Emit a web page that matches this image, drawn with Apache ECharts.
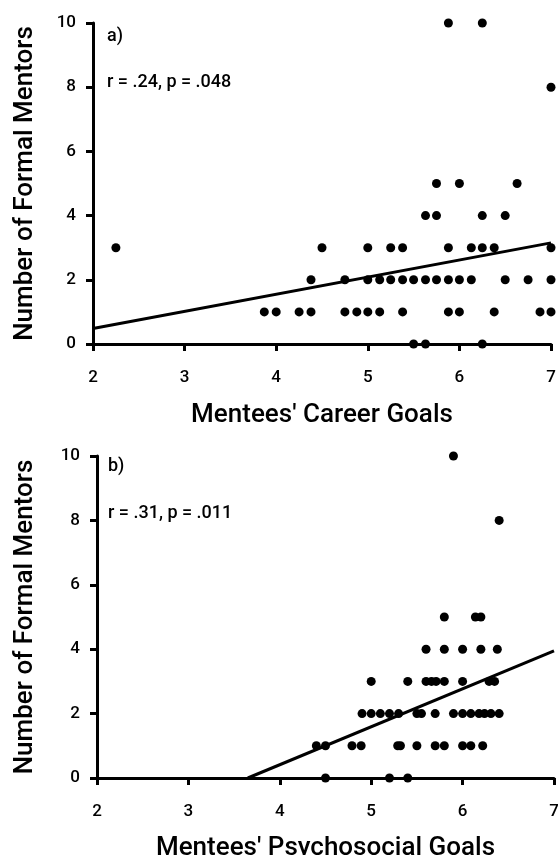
<!DOCTYPE html>
<html>
<head>
<meta charset="utf-8">
<script src="https://cdn.jsdelivr.net/npm/echarts@6/dist/echarts.min.js"></script>
<style>
html,body{margin:0;padding:0;background:#fff;}
#chart{width:558px;height:855px;}
</style>
</head>
<body>
<div id="chart"></div>
<script>
// Panel a) Career goals vs number of formal mentors
const careerGoals = [
  5.5, 5.63, 6.25,
  3.87, 4.0, 4.25, 4.38, 4.75, 4.88, 5.0, 5.13, 5.38, 5.88, 6.0, 6.38, 6.88, 7.0,
  4.38, 4.75, 5.0, 5.13, 5.25, 5.38, 5.5, 5.63, 5.75, 5.88, 6.0, 6.13, 6.5, 6.75, 7.0,
  2.25, 4.5, 5.0, 5.25, 5.38, 5.88, 6.13, 6.25, 6.38, 7.0,
  5.63, 5.75, 6.25, 6.5,
  5.75, 6.0, 6.63,
  7.0,
  5.88, 6.25
];
const careerMentors = [
  0, 0, 0,
  1, 1, 1, 1, 1, 1, 1, 1, 1, 1, 1, 1, 1, 1,
  2, 2, 2, 2, 2, 2, 2, 2, 2, 2, 2, 2, 2, 2, 2,
  3, 3, 3, 3, 3, 3, 3, 3, 3, 3,
  4, 4, 4, 4,
  5, 5, 5,
  8,
  10, 10
];
const careerFit = [[2, 0.48], [7, 3.15]];

// Panel b) Psychosocial goals vs number of formal mentors
const psychGoals = [
  4.5, 5.2, 5.4,
  4.4, 4.5, 4.79, 4.89, 5.29, 5.32, 5.5, 5.7, 5.8, 6.0, 6.09, 6.22,
  4.9, 5.0, 5.1, 5.2, 5.3, 5.5, 5.55, 5.7, 5.9, 6.0, 6.09, 6.18, 6.24, 6.31, 6.4,
  5.0, 5.4, 5.6, 5.66, 5.71, 5.8, 6.0, 6.29, 6.35,
  5.6, 5.8, 6.0, 6.2, 6.38,
  5.8, 6.14, 6.2,
  6.4,
  5.9
];
const psychMentors = [
  0, 0, 0,
  1, 1, 1, 1, 1, 1, 1, 1, 1, 1, 1, 1,
  2, 2, 2, 2, 2, 2, 2, 2, 2, 2, 2, 2, 2, 2, 2,
  3, 3, 3, 3, 3, 3, 3, 3, 3,
  4, 4, 4, 4, 4,
  5, 5, 5,
  8,
  10
];
const psychFit = [[3.65, 0], [7, 3.95]];

const xTicks = [2, 3, 4, 5, 6, 7];
const yTicks = [0, 2, 4, 6, 8, 10];

const FONT = 'Roboto';
const pair = (xs, ys) => xs.map((x, i) => [x, ys[i]]);

function xAxis(gridIndex, name, gap) {
  return {
    type: 'value', gridIndex, min: xTicks[0], max: xTicks[xTicks.length - 1], interval: 1,
    name, nameLocation: 'middle', nameGap: gap,
    nameTextStyle: { fontFamily: FONT, fontSize: 26, fontWeight: 500, color: '#000' },
    axisLine: { show: true, onZero: false, lineStyle: { color: '#000', width: 3 } },
    axisTick: { show: true, length: 7, lineStyle: { color: '#000', width: 3 } },
    axisLabel: { fontFamily: FONT, fontSize: 17, fontWeight: 500, color: '#000', margin: 25 },
    splitLine: { show: false }
  };
}
function yAxis(gridIndex, gap) {
  return {
    type: 'value', gridIndex, min: yTicks[0], max: yTicks[yTicks.length - 1], interval: 2,
    name: 'Number of Formal Mentors', nameLocation: 'middle', nameGap: gap,
    nameTextStyle: { fontFamily: FONT, fontSize: 26, fontWeight: 500, color: '#000' },
    axisLine: { show: true, onZero: false, lineStyle: { color: '#000', width: 3 } },
    axisTick: { show: true, length: 7, lineStyle: { color: '#000', width: 3 } },
    axisLabel: { fontFamily: FONT, fontSize: 17, fontWeight: 500, color: '#000', margin: 17 },
    splitLine: { show: false }
  };
}

const chart = echarts.init(document.getElementById('chart'), null, { renderer: 'canvas' });
const textStyle = { fontFamily: FONT, fontSize: 18, fontWeight: 500, fill: '#000' };
const dotStyle = { color: '#000', opacity: 1 };
chart.setOption({
  animation: false,
  backgroundColor: '#fff',
  grid: [
    { left: 93, right: 7, top: 23, height: 321, containLabel: false, outerBoundsMode: 'none' },
    { left: 97, right: 4, top: 456, height: 322, containLabel: false, outerBoundsMode: 'none' }
  ],
  xAxis: [xAxis(0, "Mentees' Career Goals", 58), xAxis(1, "Mentees' Psychosocial Goals", 57)],
  yAxis: [yAxis(0, 55), yAxis(1, 59)],
  series: [
    { type: 'scatter', xAxisIndex: 0, yAxisIndex: 0, data: pair(careerGoals, careerMentors),
      symbolSize: 9, itemStyle: dotStyle, clip: false },
    { type: 'line', xAxisIndex: 0, yAxisIndex: 0, data: careerFit, symbol: 'none',
      lineStyle: { color: '#000', width: 3 }, clip: false },
    { type: 'scatter', xAxisIndex: 1, yAxisIndex: 1, data: pair(psychGoals, psychMentors),
      symbolSize: 9, itemStyle: dotStyle, clip: false },
    { type: 'line', xAxisIndex: 1, yAxisIndex: 1, data: psychFit, symbol: 'none',
      lineStyle: { color: '#000', width: 3 }, clip: false }
  ],
  graphic: [
    { type: 'text', left: 107, top: 27, style: Object.assign({ text: 'a)' }, textStyle) },
    { type: 'text', left: 107, top: 73, style: Object.assign({ text: 'r = .24, p = .048' }, textStyle) },
    { type: 'text', left: 108, top: 457, style: Object.assign({ text: 'b)' }, textStyle) },
    { type: 'text', left: 108, top: 504, style: Object.assign({ text: 'r = .31, p = .011' }, textStyle) }
  ]
});
</script>
</body>
</html>
